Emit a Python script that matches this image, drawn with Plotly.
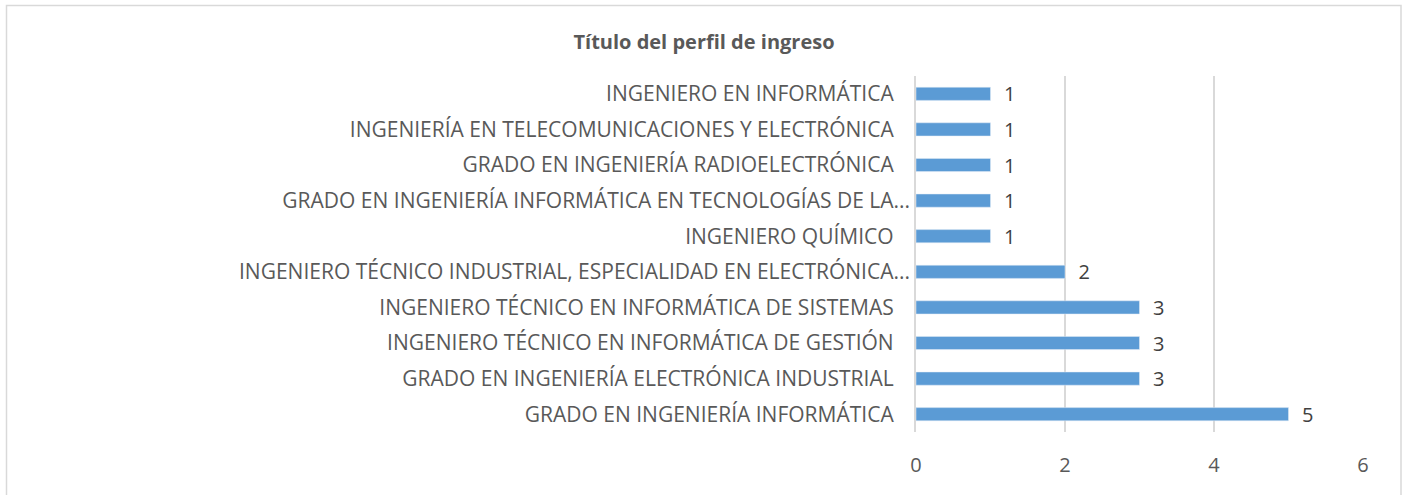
import plotly.graph_objects as go

categories = [
    "GRADO EN INGENIERÍA INFORMÁTICA",
    "GRADO EN INGENIERÍA ELECTRÓNICA INDUSTRIAL",
    "INGENIERO TÉCNICO EN INFORMÁTICA DE GESTIÓN",
    "INGENIERO TÉCNICO EN INFORMÁTICA DE SISTEMAS",
    "INGENIERO TÉCNICO INDUSTRIAL, ESPECIALIDAD EN ELECTRÓNICA...",
    "INGENIERO QUÍMICO",
    "GRADO EN INGENIERÍA INFORMÁTICA EN TECNOLOGÍAS DE LA...",
    "GRADO EN INGENIERÍA RADIOELECTRÓNICA",
    "INGENIERÍA EN TELECOMUNICACIONES Y ELECTRÓNICA",
    "INGENIERO EN INFORMÁTICA",
]
values = [5, 3, 3, 3, 2, 1, 1, 1, 1, 1]
truncated = [False, False, False, False, True, False, True, False, False, False]
x_ticks = [0, 2, 4, 6]

ticktext = [c if t else c + "\u00a0\u00a0\u00a0" for c, t in zip(categories, truncated)]

L, R, T, B = 916, 44, 76, 63
W, H = 1407, 495
pw, ph = W - L - R, H - T - B

fig = go.Figure(go.Bar(
    y=categories, x=values, orientation="h",
    marker=dict(color="#5B9BD5"),
    width=0.37,
    texttemplate="\u00a0\u00a0%{x}", textposition="outside",
    constraintext="none",
    textfont=dict(size=20, color="#404040", family="Open Sans"),
    cliponaxis=False,
    hoverinfo="skip",
))

fig.update_layout(
    width=W, height=H,
    paper_bgcolor="white", plot_bgcolor="white",
    margin=dict(l=L, r=R, t=T, b=B, autoexpand=False),
    title=dict(text="<b>Título del perfil de ingreso</b>", x=704 / W, xanchor="center",
               y=1 - 42 / H, yanchor="middle",
               font=dict(size=20, color="#595959", family="Open Sans")),
    font=dict(family="Open Sans", color="#595959"),
    showlegend=False,
    xaxis=dict(range=[0, 6], tickvals=x_ticks, showgrid=True, gridcolor="#D9D9D9",
               gridwidth=1.5, zeroline=False, showline=False, automargin=False,
               tickfont=dict(size=20, color="#595959"), ticks="", ticklabelstandoff=19),
    yaxis=dict(categoryorder="array", categoryarray=categories,
               tickvals=categories, ticktext=ticktext, automargin=False,
               showline=True, linecolor="#D9D9D9", linewidth=1.5,
               tickfont=dict(size=21, color="#595959"), ticks="", ticklabelstandoff=0),
    shapes=[dict(type="rect", xref="paper", yref="paper",
                 x0=(6.5 - L) / pw, x1=(1401 - L) / pw,
                 y0=-(H + 5 - (H - B)) / ph, y1=1 + (T - 5.5) / ph,
                 line=dict(color="#D9D9D9", width=1.5))],
)

fig.write_html("out.html", config={"displayModeBar": False},
               post_script="document.body.style.margin='0';")
